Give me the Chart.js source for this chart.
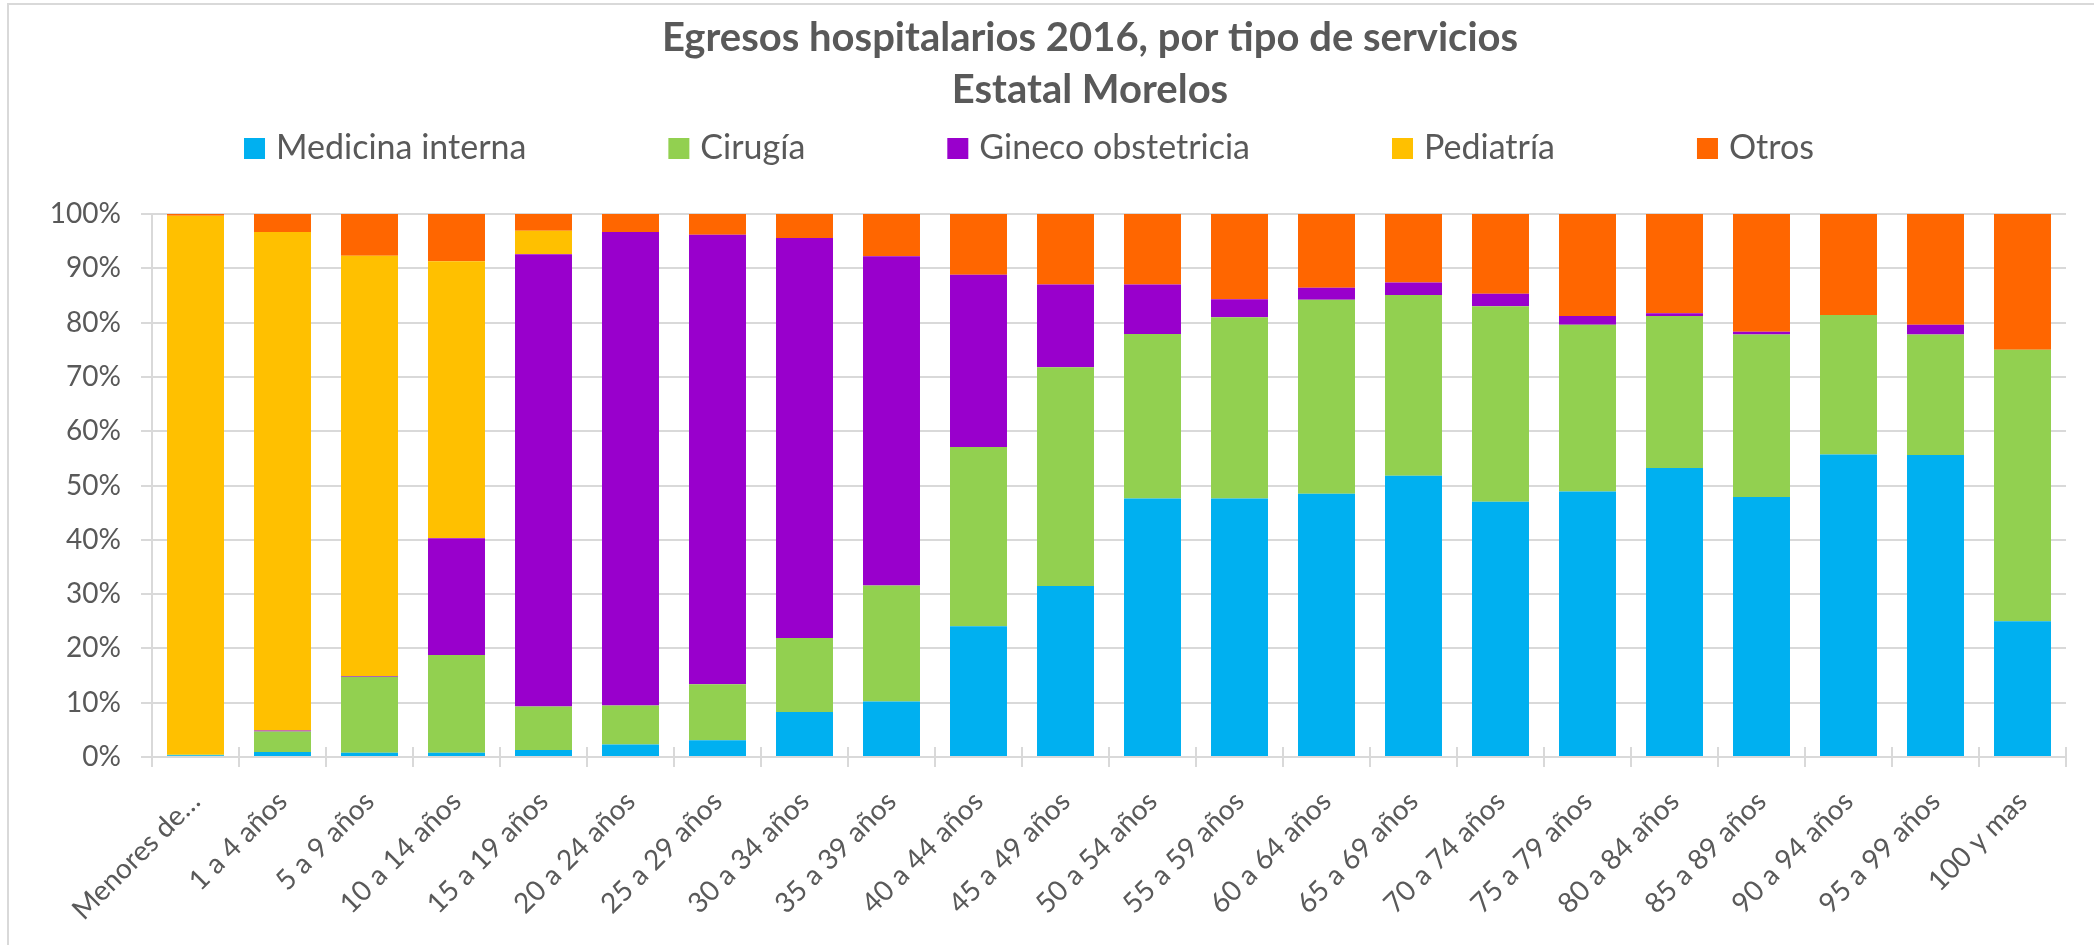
<!DOCTYPE html>
<html>
<head>
<meta charset="utf-8">
<script src="https://cdn.jsdelivr.net/npm/chart.js@4.4.1/dist/chart.umd.min.js"></script>
<style>
  html, body { margin: 0; padding: 0; background: #fff; }
  canvas { display: block; }
</style>
</head>
<body>
<canvas id="chart" width="2094" height="945"></canvas>
<script>
// Egresos hospitalarios 2016 por tipo de servicio (% por grupo de edad)
const titleLines = ['Egresos hospitalarios 2016, por tipo de servicios', 'Estatal Morelos'];

const categories = [
  'Menores de…', '1 a 4 años', '5 a 9 años', '10 a 14 años', '15 a 19 años',
  '20 a 24 años', '25 a 29 años', '30 a 34 años', '35 a 39 años', '40 a 44 años',
  '45 a 49 años', '50 a 54 años', '55 a 59 años', '60 a 64 años', '65 a 69 años',
  '70 a 74 años', '75 a 79 años', '80 a 84 años', '85 a 89 años', '90 a 94 años',
  '95 a 99 años', '100 y mas'
];

const medicinaInterna   = [0.3, 0.9, 0.8, 0.8, 1.3, 2.3, 3.1, 8.3, 10.2, 24.1, 31.5, 47.6, 47.6, 48.5, 51.8, 47.0, 48.9, 53.2, 47.9, 55.7, 55.6, 25.0];
const cirugia           = [0.1, 3.8, 14.0, 18.0, 8.0, 7.2, 10.3, 13.6, 21.4, 33.0, 40.3, 30.3, 33.4, 35.7, 33.3, 36.0, 30.7, 28.0, 29.9, 25.7, 22.2, 50.0];
const ginecoObstetricia = [0.0, 0.2, 0.1, 21.5, 83.3, 87.2, 82.8, 73.7, 60.6, 31.7, 15.2, 9.1, 3.3, 2.2, 2.3, 2.3, 1.6, 0.5, 0.5, 0.0, 1.8, 0.0];
const pediatria         = [99.3, 91.8, 77.4, 51.0, 4.3, 0.0, 0.0, 0.0, 0.0, 0.0, 0.0, 0.0, 0.0, 0.0, 0.0, 0.0, 0.0, 0.0, 0.0, 0.0, 0.0, 0.0];
const otros             = [0.3, 3.3, 7.7, 8.7, 3.1, 3.3, 3.8, 4.4, 7.8, 11.2, 13.0, 13.0, 15.7, 13.6, 12.6, 14.7, 18.8, 18.3, 21.7, 18.6, 20.4, 25.0];

const yTicks = [0, 10, 20, 30, 40, 50, 60, 70, 80, 90, 100];

const textColor = '#595959';
const lineColor = '#D9D9D9';
const fontFamily = 'Lato, "Open Sans", sans-serif';

// título y leyenda al estilo Excel (cuadro + texto, separación amplia)
const excelHeader = {
  id: 'excelHeader',
  afterDraw(chart) {
    const ctx = chart.ctx;
    const top = chart.chartArea.top;
    ctx.save();
    ctx.fillStyle = textColor;
    ctx.textAlign = 'center';
    ctx.textBaseline = 'middle';
    ctx.font = 'bold 40px ' + fontFamily;
    titleLines.forEach((t, i) => ctx.fillText(t, 1090, top - 176 + i * 52));

    const sets = chart.data.datasets;
    const box = 21, gapText = 11, gapItem = 142;
    ctx.textAlign = 'left';
    ctx.textBaseline = 'alphabetic';
    ctx.font = '34px ' + fontFamily;
    const widths = sets.map(d => box + gapText + ctx.measureText(d.label).width);
    const total = widths.reduce((a, b) => a + b, 0) + gapItem * (sets.length - 1);
    let x = 1029 - total / 2;
    const baseY = top - 55;
    sets.forEach((d, i) => {
      ctx.fillStyle = d.backgroundColor;
      ctx.fillRect(x, baseY - box, box, box);
      ctx.fillStyle = textColor;
      ctx.fillText(d.label, x + box + gapText, baseY);
      x += widths[i] + gapItem;
    });
    ctx.restore();
  }
};

// marco del gráfico y marcas de categoría que cruzan el eje
const frameAndTicks = {
  id: 'frameAndTicks',
  beforeDraw(chart) {
    const ctx = chart.ctx;
    ctx.save();
    ctx.strokeStyle = lineColor;
    ctx.lineWidth = 2;
    ctx.beginPath();
    ctx.moveTo(8, chart.height);
    ctx.lineTo(8, 4);
    ctx.lineTo(chart.width, 4);
    ctx.stroke();
    ctx.restore();
  },
  afterDatasetsDraw(chart) {
    const xs = chart.scales.x;
    const ctx = chart.ctx;
    const bottom = chart.chartArea.bottom;
    const step = xs.getPixelForTick(1) - xs.getPixelForTick(0);
    ctx.save();
    ctx.strokeStyle = lineColor;
    ctx.lineWidth = 2;
    ctx.beginPath();
    for (let i = 0; i <= categories.length; i++) {
      const px = xs.getPixelForTick(0) - step / 2 + i * step;
      ctx.moveTo(px, bottom - 10);
      ctx.lineTo(px, bottom);
    }
    ctx.stroke();
    ctx.restore();
  }
};

const colors = ['#00B0F0', '#92D050', '#9900CC', '#FFC000', '#FF6600'];

new Chart(document.getElementById('chart'), {
  type: 'bar',
  data: {
    labels: categories,
    datasets: [
      { label: 'Medicina interna', data: medicinaInterna, backgroundColor: colors[0] },
      { label: 'Cirugía', data: cirugia, backgroundColor: colors[1] },
      { label: 'Gineco obstetricia', data: ginecoObstetricia, backgroundColor: colors[2] },
      { label: 'Pediatría', data: pediatria, backgroundColor: colors[3] },
      { label: 'Otros', data: otros, backgroundColor: colors[4] },
    ].map(d => ({ ...d, borderWidth: 0, categoryPercentage: 1, barPercentage: 0.655 })),
  },
  options: {
    responsive: false,
    animation: false,
    layout: { padding: { left: 0, right: 28, top: 214, bottom: 0 } },
    plugins: {
      legend: { display: false },
      tooltip: { enabled: false },
      title: { display: false },
    },
    scales: {
      x: {
        stacked: true,
        grid: { drawOnChartArea: false, drawTicks: true, tickLength: 10, color: lineColor, lineWidth: 2 },
        border: { color: lineColor, width: 2 },
        ticks: {
          color: textColor,
          font: { family: fontFamily, size: 28 },
          minRotation: 45,
          maxRotation: 45,
          autoSkip: false,
          padding: 18,
        },
        afterFit: s => { s.height = 188; },
      },
      y: {
        stacked: true,
        min: 0,
        max: 100,
        afterBuildTicks: s => { s.ticks = yTicks.map(v => ({ value: v })); },
        grid: { color: lineColor, lineWidth: 2, tickLength: 11 },
        border: { color: lineColor, width: 2 },
        ticks: {
          color: textColor,
          font: { family: fontFamily, size: 28 },
          padding: 20,
          callback: v => v + '%',
        },
        afterFit: s => { s.width = 152; },
      },
    },
  },
  plugins: [excelHeader, frameAndTicks],
});
</script>
</body>
</html>
